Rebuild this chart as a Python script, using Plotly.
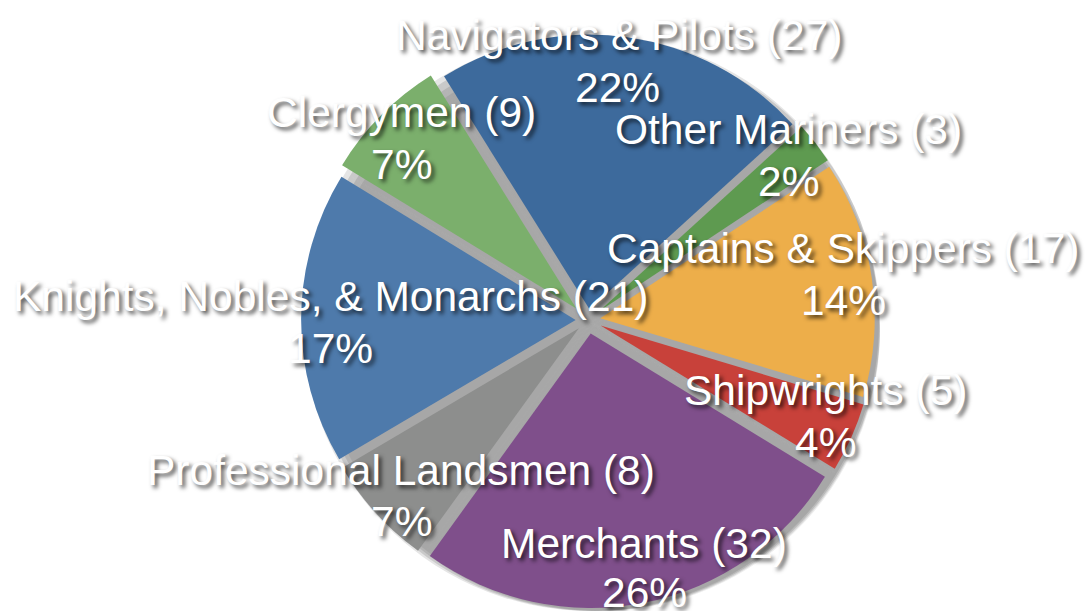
import plotly.graph_objects as go

# Occupations, clockwise from the top of the pie
categories = [
    "Navigators & Pilots",
    "Other Mariners",
    "Captains & Skippers",
    "Shipwrights",
    "Merchants",
    "Professional Landsmen",
    "Knights, Nobles, & Monarchs",
    "Clergymen",
]
counts = [27, 3, 17, 5, 32, 8, 21, 9]

slice_colors = ["#3D6A9C", "#5E9A50", "#EDAE4A", "#C8413A",
                "#7F4F8B", "#8D8E8D", "#4E7AAB", "#7BAF6C"]
slice_pull = [0.04, 0.05, 0.045, 0.05, 0.05, 0.045, 0.045, 0.06]

# Label anchor points in pixels (name line, percentage line)
name_xy = [(619, 36), (788, 130), (843, 248), (826, 390),
           (644, 543), (401, 470), (330, 296), (401, 113)]
pct_xy = [(617, 88), (788, 181), (843, 300), (826, 442),
          (644, 592), (401, 521), (330, 348), (401, 165)]

W, H = 1085, 611
total = sum(counts)
ROT = -32

# pie placement (paper fractions); center sits at about (588, 320)
dom_x = [297 / W, 879 / W]
dom_y = [0.0, 0.9525]

fig = go.Figure()

# soft drop shadow toward the lower right: a few translucent, offset copies
for dx, dy, alpha in ((3, 3, 0.10), (6, 5, 0.12), (9, 8, 0.10), (12, 11, 0.07)):
    fig.add_trace(go.Pie(
        values=counts,
        labels=categories,
        sort=False,
        direction="clockwise",
        rotation=ROT,
        marker=dict(colors=[f"rgba(0,0,0,{alpha})"] * len(counts), line=dict(width=0)),
        textinfo="none",
        hoverinfo="skip",
        showlegend=False,
        domain=dict(x=[dom_x[0] + dx / W, dom_x[1] + dx / W],
                    y=[dom_y[0], dom_y[1] - 2 * dy / H]),
    ))

fig.add_trace(go.Pie(
    values=counts,
    labels=categories,
    sort=False,
    direction="clockwise",
    rotation=ROT,
    pull=slice_pull,
    marker=dict(colors=slice_colors, line=dict(width=0)),
    textinfo="none",
    hovertemplate="%{label}: %{value} (%{percent})<extra></extra>",
    showlegend=False,
    domain=dict(x=dom_x, y=dom_y),
))

label_font = dict(family="Liberation Sans, Arial, Helvetica, sans-serif",
                  size=42.5, color="white",
                  shadow="3px 3px 4px rgba(0,0,0,0.7)")

annotations = []
for cat, n, (nx, ny), (qx, qy) in zip(categories, counts, name_xy, pct_xy):
    pct = round(100 * n / total)
    annotations.append(dict(
        text=f"{cat} ({n})", x=nx / W, y=1 - ny / H,
        xref="paper", yref="paper", xanchor="center", yanchor="middle",
        showarrow=False, font=label_font,
    ))
    annotations.append(dict(
        text=f"{pct}%", x=qx / W, y=1 - qy / H,
        xref="paper", yref="paper", xanchor="center", yanchor="middle",
        showarrow=False, font=label_font,
    ))

fig.update_layout(
    width=W, height=H,
    margin=dict(l=0, r=0, t=0, b=0),
    paper_bgcolor="white",
    plot_bgcolor="white",
    annotations=annotations,
)

fig.write_html("out.html")
